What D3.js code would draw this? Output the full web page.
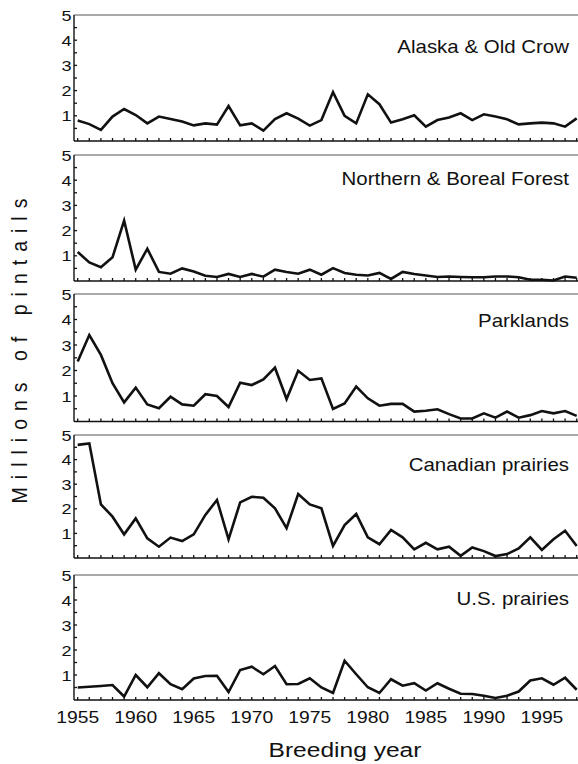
<!DOCTYPE html>
<html>
<head>
<meta charset="utf-8">
<script src="https://cdn.jsdelivr.net/npm/d3@7"></script>
<style>
  html, body { margin: 0; padding: 0; background: #fff; }
  svg { display: block; font-family: "Liberation Sans", Arial, sans-serif; }
</style>
</head>
<body>
<svg id="chart" width="578" height="764"></svg>
<script>
// breeding years and pintail counts (millions) per region
const years = d3.range(1955, 1999)
const regions = ['Alaska & Old Crow', 'Northern & Boreal Forest', 'Parklands', 'Canadian prairies', 'U.S. prairies']

const alaska = [0.81,0.67,0.44,0.97,1.27,1.03,0.70,0.97,0.87,0.77,0.62,0.70,0.65,1.39,0.62,0.70,0.41,0.87,1.10,0.89,0.61,0.83,1.94,
  1.00,0.70,1.85,1.46,0.73,0.86,1.02,0.57,0.83,0.93,1.10,0.83,1.06,0.97,0.86,0.66,0.70,0.73,0.70,0.57,0.90]
const boreal = [1.15,0.74,0.55,0.94,2.40,0.45,1.28,0.36,0.29,0.50,0.38,0.21,0.16,0.28,0.16,0.28,0.17,0.45,0.36,0.29,0.45,0.25,0.51,
  0.32,0.25,0.22,0.32,0.08,0.36,0.28,0.22,0.16,0.18,0.16,0.15,0.15,0.18,0.18,0.15,0.05,0.05,0.02,0.18,0.13]
const parklands = [2.35,3.39,2.61,1.50,0.75,1.33,0.67,0.52,0.97,0.67,0.62,1.07,1.00,0.57,1.52,1.43,1.65,2.11,0.88,1.99,1.63,1.69,0.49,
  0.71,1.37,0.91,0.62,0.69,0.69,0.39,0.42,0.48,0.29,0.12,0.12,0.32,0.15,0.39,0.15,0.25,0.41,0.32,0.41,0.22]
const canadian = [4.60,4.66,2.18,1.68,0.96,1.61,0.80,0.46,0.83,0.69,0.96,1.75,2.36,0.76,2.26,2.49,2.45,2.02,1.21,2.60,2.18,2.02,0.49,
  1.34,1.79,0.84,0.56,1.14,0.84,0.35,0.62,0.35,0.46,0.09,0.43,0.28,0.08,0.16,0.39,0.84,0.33,0.76,1.11,0.49]
const usPrairies = [0.50,0.53,0.56,0.60,0.14,1.00,0.51,1.07,0.63,0.43,0.86,0.96,0.97,0.32,1.20,1.33,1.03,1.36,0.63,0.64,0.87,0.50,0.28,
  1.57,1.03,0.51,0.28,0.83,0.57,0.67,0.38,0.67,0.45,0.25,0.24,0.17,0.08,0.17,0.34,0.78,0.87,0.61,0.89,0.41]

const series = [alaska, boreal, parklands, canadian, usPrairies]
const xTickLabels = [1955, 1960, 1965, 1970, 1975, 1980, 1985, 1990, 1995]
const yTickLabels = [1, 2, 3, 4, 5]

const svg = d3.select('#chart')
const axisX = 74
// panel boxes (top of the 5 line, bottom = 0 line)
const panelTop = [15, 155, 294, 435, 575]
const panelBottom = [141, 281, 421.5, 558, 700]
const titleDy = [38, 30, 33, 36, 30]
const stretch = 1.17 // the scanned lettering is wide

const x = d3.scaleLinear().domain([1955, 1998]).range([77.7, 576.7])

// text helper, wide lettering
function label(g, tx, ty, str, size, anchor, extra) {
  return g.append('text')
    .attr('transform', `translate(${tx},${ty}) scale(${stretch},1)` + (extra || ''))
    .attr('text-anchor', anchor)
    .attr('font-size', size)
    .attr('fill', '#111')
    .text(str)
}

series.forEach((vals, i) => {
  const top = panelTop[i]
  const y = d3.scaleLinear().domain([0, 5]).range([panelBottom[i], top])
  const g = svg.append('g')

  // top frame
  g.append('line')
    .attr('x1', axisX).attr('x2', 578)
    .attr('y1', y(5)).attr('y2', y(5))
    .attr('stroke', '#555').attr('stroke-width', 1)

  // left axis with inward ticks
  g.append('line')
    .attr('x1', axisX).attr('x2', axisX)
    .attr('y1', y(5)).attr('y2', y(0))
    .attr('stroke', '#111').attr('stroke-width', 1.4)
  g.selectAll('.yt').data(d3.range(0.5, 5, 0.5)).enter().append('line')
    .attr('x1', axisX).attr('x2', axisX + 3)
    .attr('y1', d => y(d)).attr('y2', d => y(d))
    .attr('stroke', '#111').attr('stroke-width', 1.3)
  yTickLabels.forEach(v => {
    label(g, 71.5, y(v) + 5.5, v, 15.5, 'end')
  })

  // bottom axis with yearly ticks
  g.append('line')
    .attr('x1', axisX).attr('x2', 578)
    .attr('y1', y(0)).attr('y2', y(0))
    .attr('stroke', '#111').attr('stroke-width', 1.5)
  g.selectAll('.xt').data(years).enter().append('line')
    .attr('x1', d => x(d)).attr('x2', d => x(d))
    .attr('y1', y(0)).attr('y2', y(0) - 3)
    .attr('stroke', '#111').attr('stroke-width', 1.3)

  // data line
  const line = d3.line().x((d, j) => x(years[j])).y(d => y(d))
  g.append('path')
    .datum(vals)
    .attr('d', line)
    .attr('fill', 'none')
    .attr('stroke', '#111')
    .attr('stroke-width', 2.6)
    .attr('stroke-linejoin', 'miter')

  // region name
  label(g, 569, top + titleDy[i], regions[i], 17.5, 'end')

  // year labels only on the last panel
  if (i === series.length - 1) {
    xTickLabels.forEach(yr => {
      label(g, x(yr), 723, yr, 16.5, 'middle')
    })
  }
})

// axis titles
label(svg, 345, 757, 'Breeding year', 21, 'middle')
svg.append('text')
  .attr('transform', `translate(27,347) scale(${stretch},1) rotate(-90)`)
  .attr('text-anchor', 'middle')
  .attr('font-size', 19.5)
  .attr('letter-spacing', 8)
  .attr('fill', '#111')
  .text('Millions of pintails')
</script>
</body>
</html>
